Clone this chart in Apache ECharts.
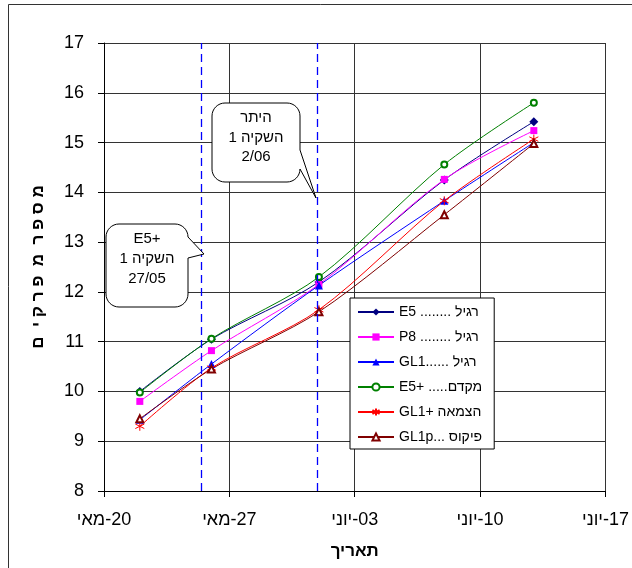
<!DOCTYPE html>
<html><head><meta charset="utf-8">
<script src="https://cdn.jsdelivr.net/npm/echarts@6/dist/echarts.min.js"></script>
<style>html,body{margin:0;padding:0;background:#fff}#c{width:632px;height:568px}</style>
</head><body><div id="c"></div>
<script>
// x values: days after 20 May
const dayOffsets = [2, 6, 12, 19, 24];
const e5Regular   = [10.0, 11.05, 12.2, 14.25, 15.42];
const p8Regular   = [9.8, 10.82, 12.15, 14.26, 15.24];
const gl1Regular  = [9.43, 10.55, 12.13, 13.83, 15.0];
const e5Early     = [9.98, 11.06, 12.3, 14.56, 15.8];
const gl1Thirst   = [9.3, 10.47, 11.64, 13.83, 15.07];
const gl1pFicus   = [9.45, 10.45, 11.6, 13.55, 14.98];
const seriesNames = ['E5 ........ רגיל', 'P8 ........ רגיל', 'GL1...... רגיל', 'E5+ .....מקדם', 'GL1+ הצמאה', 'GL1p... פיקוס'];
const tickLabels = ['מאי-20', 'מאי-27', 'יוני-03', 'יוני-10', 'יוני-17'];
const irrigationDays = [5.45, 11.92];

const FONT = 'Liberation Sans, Arial, Helvetica, sans-serif';
const pairs = v => dayOffsets.map((d, i) => [d, v[i]]);
const asterisk = 'path://M5 0 L5 10 M0.7 2.5 L9.3 7.5 M0.7 7.5 L9.3 2.5';

const styles = [
  {data: e5Regular,  color: '#000080', symbol: 'diamond', size: 9},
  {data: p8Regular,  color: '#ff00ff', symbol: 'rect', size: 7},
  {data: gl1Regular, color: '#0000ff', symbol: 'triangle', size: 8},
  {data: e5Early,    color: '#008000', symbol: 'emptyCircle', size: 6},
  {data: gl1Thirst,  color: '#ff0000', symbol: asterisk, size: 9},
  {data: gl1pFicus,  color: '#800000', symbol: 'emptyTriangle', size: 7}
];

const series = styles.map((s, i) => {
  const o = {
    name: seriesNames[i], type: 'line', data: pairs(s.data), smooth: 0.3,
    symbol: s.symbol, symbolSize: s.size, showAllSymbol: true,
    lineStyle: {color: s.color, width: 1},
    itemStyle: {color: s.color, borderColor: s.color, borderWidth: (s.symbol.startsWith('empty') || s.symbol === asterisk) ? 1 : 0},
    emphasis: {disabled: true}
  };
  if (i === 0) {
    o.markLine = {
      silent: true, symbol: 'none', label: {show: false},
      lineStyle: {color: '#0000ff', type: [8, 5], width: 1.3},
      data: irrigationDays.map(d => ({xAxis: d}))
    };
  }
  return o;
});

function calloutPoints(x, y, w, h, r, ptr) {
  const pts = [];
  const arc = (cx, cy, a0, a1) => { for (let k = 0; k <= 8; k++) { const a = a0 + (a1 - a0) * k / 8; pts.push([cx + r * Math.cos(a), cy + r * Math.sin(a)]); } };
  arc(x + r, y + r, Math.PI, 1.5 * Math.PI);
  arc(x + w - r, y + r, 1.5 * Math.PI, 2 * Math.PI);
  ptr.forEach(p => pts.push(p));
  arc(x + w - r, y + h - r, 0, 0.5 * Math.PI);
  arc(x + r, y + h - r, 0.5 * Math.PI, Math.PI);
  return pts;
}
const richT = {t: {fontSize: 15, fontFamily: FONT, color: '#000'}};
function ctext(x, y, parts) {
  return {type: 'text', z: 101, x: x, y: y, style: {
    text: parts.map(p => '{t|' + p + '}').join(''), rich: richT,
    font: '15px ' + FONT, fill: '#000', textAlign: 'center', textVerticalAlign: 'middle'}};
}

const chart = echarts.init(document.getElementById('c'), null, {renderer: 'canvas'});
chart.setOption({
  animation: false,
  backgroundColor: '#fff',
  textStyle: {fontFamily: FONT},
  grid: {left: 104, top: 43, right: 26, bottom: 77},
  xAxis: {
    type: 'value', min: 0, max: 28, interval: 7,
    name: 'תאריך', nameLocation: 'middle', nameGap: 52,
    nameTextStyle: {fontSize: 17, fontWeight: 'bold', color: '#000', fontFamily: FONT},
    axisLine: {lineStyle: {color: '#000', width: 1}},
    axisTick: {show: true, length: 6, lineStyle: {color: '#000'}},
    axisLabel: {
      fontSize: 18, color: '#000', margin: 20,
      formatter: v => { const p = tickLabels[Math.round(v / 7)].split('-'); return '{t|' + p[0] + '}{t|-' + p[1] + '}'; },
      rich: {t: {fontSize: 18, color: '#000', fontFamily: FONT}}
    },
    splitLine: {show: true, lineStyle: {color: '#333', width: 1}}
  },
  yAxis: {
    type: 'value', min: 8, max: 17, interval: 1,
    name: 'מ ס פ ר  מ  פ ר ק י  ם', nameLocation: 'middle', nameRotate: 90, nameGap: 57,
    nameTextStyle: {fontSize: 17, fontWeight: 'bold', color: '#000', fontFamily: FONT},
    axisLine: {show: true, lineStyle: {color: '#000', width: 1}},
    axisTick: {show: true, length: 6, lineStyle: {color: '#000'}},
    axisLabel: {fontSize: 18, color: '#000', margin: 20},
    splitLine: {show: true, lineStyle: {color: '#333', width: 1}}
  },
  legend: {
    orient: 'vertical', left: 350, top: 298,
    padding: [7, 12, 5, 7], itemGap: 11, itemWidth: 36, itemHeight: 9,
    backgroundColor: '#fff', borderColor: '#000', borderWidth: 1, borderRadius: 0,
    textStyle: {fontSize: 14, color: '#000', fontFamily: FONT},
    selectedMode: false,
    data: seriesNames
  },
  series: series,
  graphic: [
    {type: 'rect', shape: {x: 8.5, y: 4.5, width: 800, height: 800}, style: {fill: 'none', stroke: '#333', lineWidth: 1}, silent: true, z: 0},
    {type: 'polygon', z: 100, shape: {points: calloutPoints(106, 224, 82, 83, 13, [[188, 237], [204, 254], [188, 258]])}, style: {fill: '#fff', stroke: '#000', lineWidth: 1}},
    ctext(147, 239, ['E5+']),
    ctext(147, 259, ['1 ', 'השקיה']),
    ctext(147, 279, ['27/05']),
    {type: 'polygon', z: 100, shape: {points: calloutPoints(212, 103, 88, 79, 13, [[300, 150], [316, 198], [300, 169]])}, style: {fill: '#fff', stroke: '#000', lineWidth: 1}},
    ctext(256, 118, ['היתר']),
    ctext(256, 138, ['1 ', 'השקיה']),
    ctext(256, 157, ['2/06'])
  ]
});
</script></body></html>
